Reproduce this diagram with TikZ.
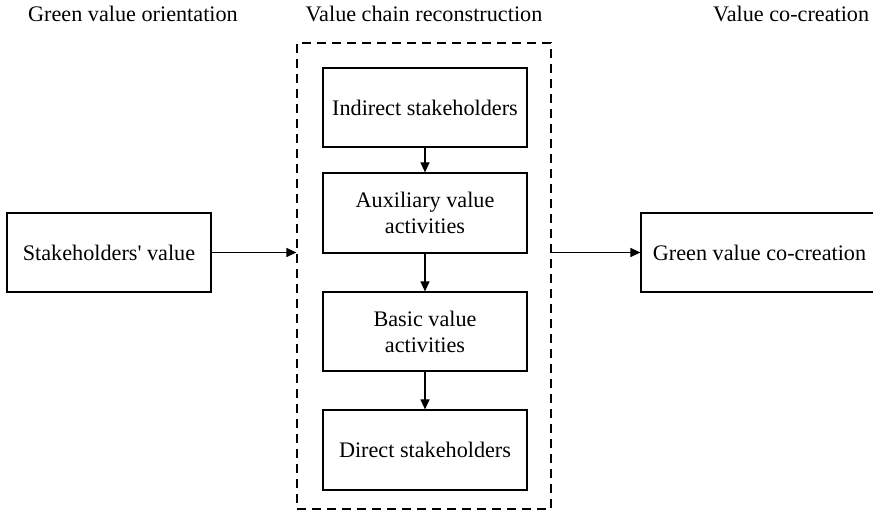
\documentclass[tikz,border=0pt]{standalone}
\usepackage{fontspec}
\setmainfont{Liberation Serif}
\usetikzlibrary{arrows.meta}
\begin{document}
\begin{tikzpicture}[x=1pt,y=-1pt,
  txt/.style={font=\fontsize{22.2}{26}\selectfont, inner sep=0pt},
  box/.style={txt, draw, line width=1.2pt, minimum width=204pt, minimum height=79pt, align=center},
  dashbox/.style={draw, line width=1.2pt, dash pattern=on 9pt off 6pt, minimum width=254pt, minimum height=466pt, inner sep=0pt},
  arr/.style={line width=1.2pt, -{Triangle[length=10pt,width=9pt]}}]
\useasboundingbox (0,0) rectangle (873,510);
\clip (0,0) rectangle (873,510);
\node[txt, anchor=base west] (t1) at (28,22) {Green value orientation};
\node[txt, anchor=base] (t2) at (424,22) {Value chain reconstruction};
\node[txt, anchor=base west] (t3) at (713,22) {Value co-creation};
\node[dashbox] (chain) at (424,276) {};
\node[box] (b1) at (425,107.5) {Indirect stakeholders};
\node[box, minimum height=80pt] (b2) at (425,213) {Auxiliary value\\activities};
\node[box] (b3) at (425,331.5) {Basic value\\activities};
\node[box, minimum height=80pt] (b4) at (425,450) {Direct stakeholders};
\node[box] (sv) at (109,252.5) {Stakeholders\textquotesingle{} value};
\node[box, minimum width=237pt] (gv) at (759.5,252.5) {Green value co-creation};
\draw[arr] (b1.south) -- (b2.north);
\draw[arr] (b2.south) -- (b3.north);
\draw[arr] (b3.south) -- (b4.north);
\draw[arr] (sv.east) -- (sv.east -| chain.west);
\draw[arr] (chain.east |- gv.west) -- (gv.west);
\end{tikzpicture}
\end{document}
